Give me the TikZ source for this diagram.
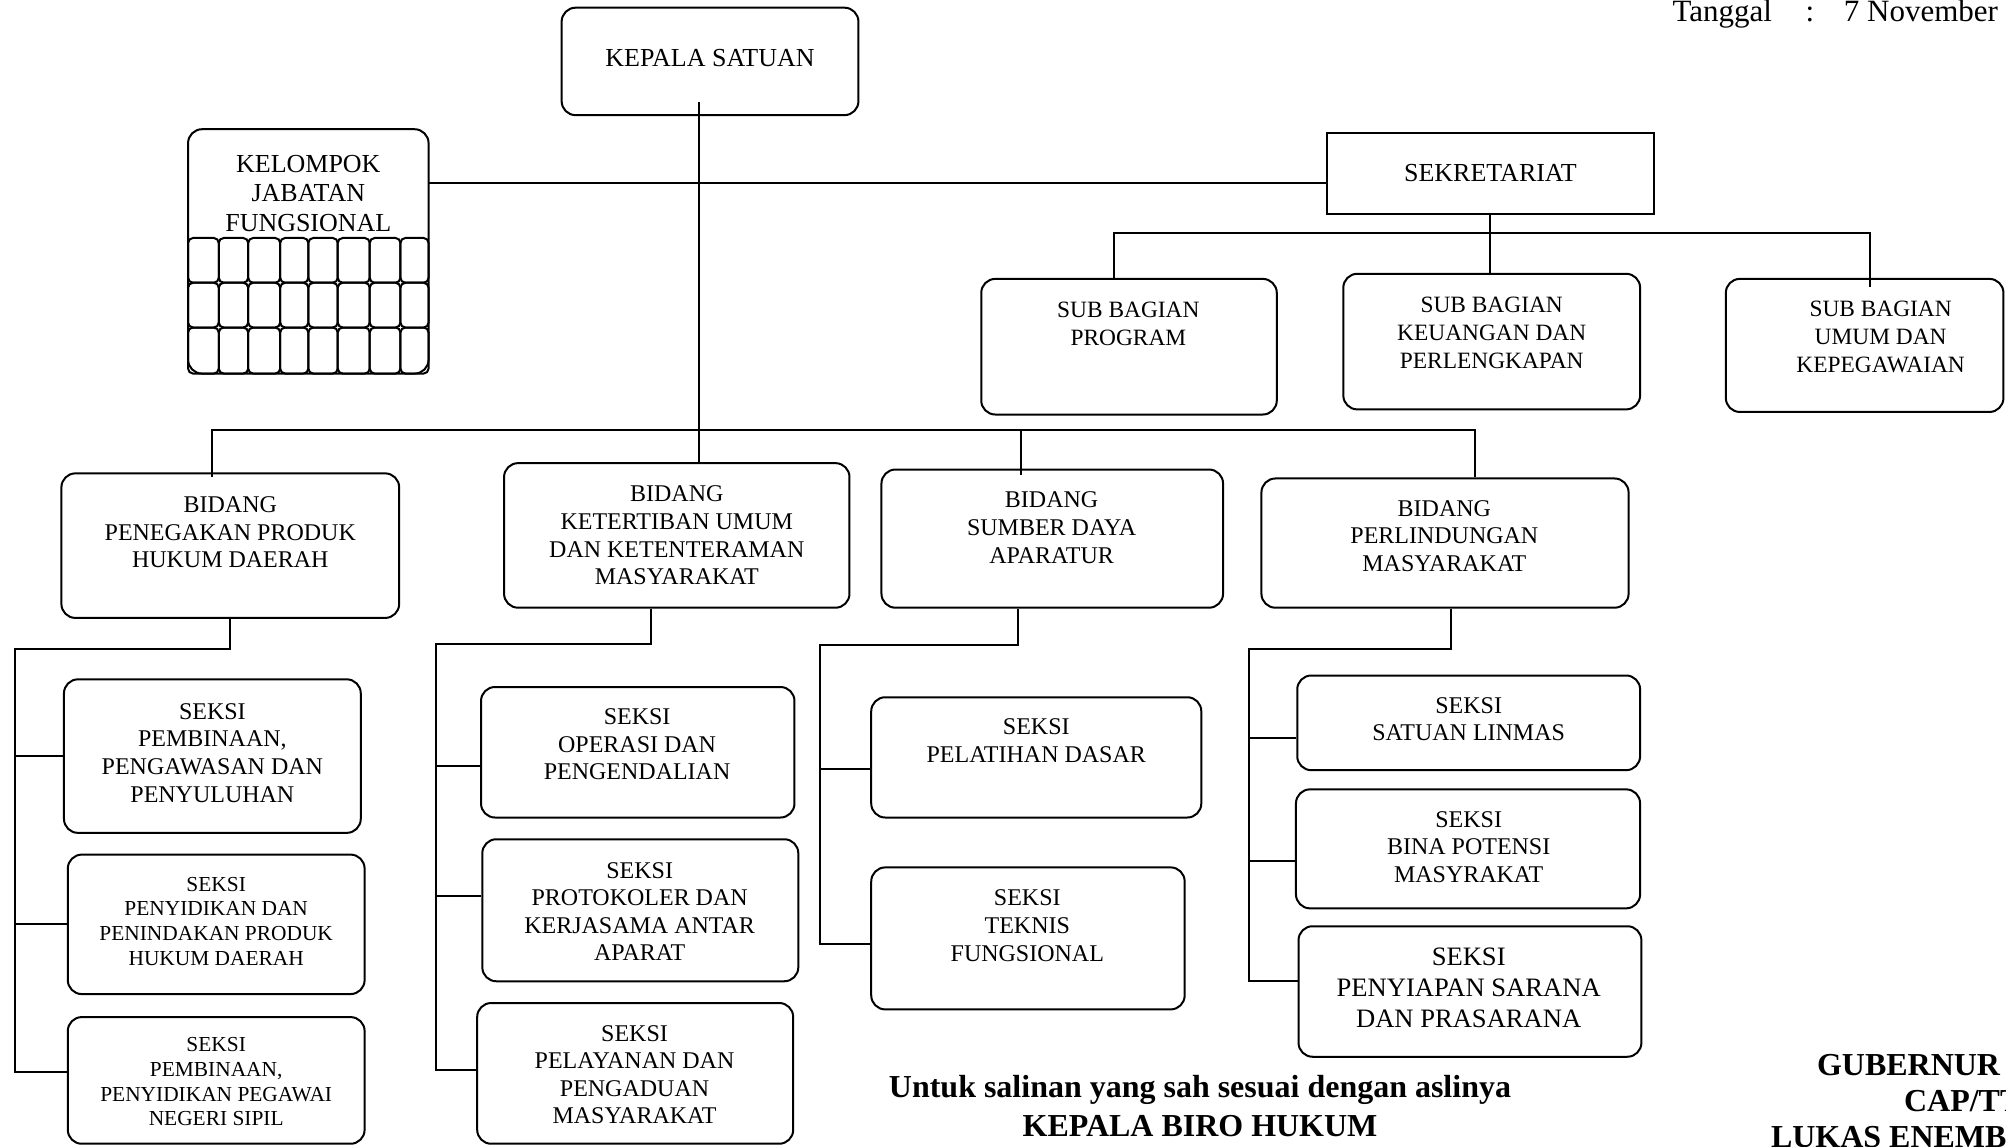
\documentclass[tikz,border=0pt]{standalone}
\usepackage{fontspec}
\setmainfont{Liberation Serif}
\usetikzlibrary{fit,calc}
\begin{document}
\begin{tikzpicture}[x=0.64pt,y=-0.64pt,
  rbox/.style={draw,line width=1pt,rounded corners=7pt,inner sep=0pt},
  sbox/.style={draw,line width=1pt,inner sep=0pt},
  cell/.style={draw,line width=1pt,rounded corners=2.5pt},
  lbl/.style={align=center,inner sep=0pt},
  ln/.style={line width=1pt},
  fA/.style={font=\fontsize{13}{14.7}\selectfont},
  fB/.style={font=\fontsize{11.7}{14}\selectfont},
  fC/.style={font=\fontsize{12}{13.8}\selectfont},
  fD/.style={font=\fontsize{10.7}{12.35}\selectfont},
  fE/.style={font=\fontsize{13.3}{15.4}\selectfont},
  fT/.style={font=\fontsize{15.5}{18}\selectfont},
  fBold/.style={font=\fontsize{16}{18}\selectfont\bfseries}]
\useasboundingbox (0,0) rectangle (1568,896);

% header
\node[fT,anchor=base west,inner sep=0pt] (tg) at (1307,17) {Tanggal};
\node[fT,anchor=base west,inner sep=0pt] (tgc) at (1411,17) {:};
\node[fT,anchor=base west,inner sep=0pt] (tgd) at (1441,17) {7 November};

% top
\node[rbox,fit={(439,6) (671,90)}] (kepala) {};
\node[lbl,fA] (kepala-t) at (555,45) {KEPALA SATUAN};

\node[rbox,fit={(147,101) (335,292)}] (kjf) {};
\node[lbl,fA] (kjf-t) at (241,151) {KELOMPOK\\JABATAN\\FUNGSIONAL};
\foreach \r/\s in {186/221,221/256,256/292}{
  \foreach \a/\b in {147/171,171/194,194/219,219/241,241/264,264/289,289/313,313/335}{
    \draw[cell] (\a,\r) rectangle (\b,\s);
  }
}

\node[sbox,fit={(1037,104) (1293,167)}] (sek) {};
\node[lbl,fA] (sek-t) at (1165,135) {SEKRETARIAT};

\node[rbox,fit={(767,218) (998,324)}] (prog) {};
\node[lbl,fB] (prog-t) at (882,253) {SUB BAGIAN\\PROGRAM};
\node[rbox,fit={(1050,214) (1282,320)}] (keu) {};
\node[lbl,fB] (keu-t) at (1166,260) {SUB BAGIAN\\KEUANGAN DAN\\PERLENGKAPAN};
\node[rbox,fit={(1349,218) (1566,322)}] (umum) {};
\node[lbl,fB] (umum-t) at (1470,263) {SUB BAGIAN\\UMUM DAN\\KEPEGAWAIAN};

% bidang
\node[rbox,fit={(48,370) (312,483)}] (bid1) {};
\node[lbl,fC] (bid1-t) at (180,416) {BIDANG\\PENEGAKAN PRODUK\\HUKUM DAERAH};
\node[rbox,fit={(394,362) (664,475)}] (bid2) {};
\node[lbl,fC] (bid2-t) at (529,418.5) {BIDANG\\KETERTIBAN UMUM\\DAN KETENTERAMAN\\MASYARAKAT};
\node[rbox,fit={(689,367) (956,475)}] (bid3) {};
\node[lbl,fC] (bid3-t) at (822,412.5) {BIDANG\\SUMBER DAYA\\APARATUR};
\node[rbox,fit={(986,374) (1273,475)}] (bid4) {};
\node[lbl,fC] (bid4-t) at (1129,419) {BIDANG\\PERLINDUNGAN\\MASYARAKAT};

% seksi col 1
\node[rbox,fit={(50,531) (282,651)}] (s11) {};
\node[lbl,fC] (s11-t) at (166,588.5) {SEKSI\\PEMBINAAN,\\PENGAWASAN DAN\\PENYULUHAN};
\node[rbox,fit={(53,668) (285,777)}] (s12) {};
\node[lbl,fD] (s12-t) at (169,720) {SEKSI\\PENYIDIKAN DAN\\PENINDAKAN PRODUK\\HUKUM DAERAH};
\node[rbox,fit={(53,795) (285,894)}] (s13) {};
\node[lbl,fD] (s13-t) at (169,845.5) {SEKSI\\PEMBINAAN,\\PENYIDIKAN PEGAWAI\\NEGERI SIPIL};

% seksi col 2
\node[rbox,fit={(376,537) (621,639)}] (s21) {};
\node[lbl,fC] (s21-t) at (498,582) {SEKSI\\OPERASI DAN\\PENGENDALIAN};
\node[rbox,fit={(377,656) (624,767)}] (s22) {};
\node[lbl,fC] (s22-t) at (500,712.5) {SEKSI\\PROTOKOLER DAN\\KERJASAMA ANTAR\\APARAT};
\node[rbox,fit={(373,784) (620,894)}] (s23) {};
\node[lbl,fC] (s23-t) at (496,840) {SEKSI\\PELAYANAN DAN\\PENGADUAN\\MASYARAKAT};

% seksi col 3
\node[rbox,fit={(681,545) (939,639)}] (s31) {};
\node[lbl,fC] (s31-t) at (810,579) {SEKSI\\PELATIHAN DASAR};
\node[rbox,fit={(681,678) (926,789)}] (s32) {};
\node[lbl,fC] (s32-t) at (803,723.5) {SEKSI\\TEKNIS\\FUNGSIONAL};

% seksi col 4
\node[rbox,fit={(1014,528) (1282,602)}] (s41) {};
\node[lbl,fC] (s41-t) at (1148,562) {SEKSI\\SATUAN LINMAS};
\node[rbox,fit={(1013,617) (1282,710)}] (s42) {};
\node[lbl,fC] (s42-t) at (1148,662) {SEKSI\\BINA POTENSI\\MASYRAKAT};
\node[rbox,fit={(1015,724) (1283,826)}] (s43) {};
\node[lbl,fE] (s43-t) at (1148,772) {SEKSI\\PENYIAPAN SARANA\\DAN PRASARANA};

% bottom texts
\node[fBold,lbl] (sal1) at (938,852) {Untuk salinan yang sah sesuai dengan aslinya};
\node[fBold,lbl] (sal2) at (938,880) {KEPALA BIRO HUKUM};
\node[fBold,anchor=base west,inner sep=0pt] (gub1) at (1420,841) {GUBERNUR};
\node[fBold,anchor=base west,inner sep=0pt] (gub2) at (1488,869) {CAP/TT};
\node[fBold,anchor=base west,inner sep=0pt] (gub3) at (1384,897) {LUKAS ENEMB};

% connectors
\coordinate (k0) at (546,80);
\draw[ln] (k0) -- (k0 |- bid2.north);
\coordinate (ks) at (335,143);
\draw[ln] (ks) -- (ks -| sek.west);
\draw[ln] (sek.south) -- (sek.south |- keu.north);
\coordinate (sb1) at (871,182);
\coordinate (sb2) at (1462,182);
\draw[ln] (sb1 |- prog.north) -- (sb1) -- (sb2) -- ($(sb2 |- umum.north)+(0,7)$);
\coordinate (mb1) at (166,336);
\coordinate (mb2) at (1153,336);
\coordinate (mb3) at (798,336);
\draw[ln] ($(mb1 |- bid1.north)+(0,4)$) -- (mb1) -- (mb2) -- (mb2 |- bid4.north);
\draw[ln] (mb3) -- ($(mb3 |- bid3.north)+(0,5)$);

% column 1
\coordinate (c1) at (12,507);
\draw[ln] (bid1.south) |- (c1) -- (12,838) -- (s13.west |- 12,838);
\draw[ln] (12,591) -- (s11.west |- 12,591);
\draw[ln] (12,722) -- (s12.west |- 12,722);
% column 2
\coordinate (c2) at (341,503);
\draw[ln] (bid2.south -| 509,0) |- (c2) -- (341,836) -- (s23.west |- 341,836);
\draw[ln] (341,599) -- (s21.west |- 341,599);
\draw[ln] (341,700) -- (s22.west |- 341,700);
% column 3
\coordinate (c3) at (641,504);
\draw[ln] (bid3.south -| 796,0) |- (c3) -- (641,738) -- (s32.west |- 641,738);
\draw[ln] (641,601) -- (s31.west |- 641,601);
% column 4
\coordinate (c4) at (976,507);
\draw[ln] (bid4.south -| 1134,0) |- (c4) -- (976,767) -- (s43.west |- 976,767);
\draw[ln] (976,577) -- (s41.west |- 976,577);
\draw[ln] (976,673) -- (s42.west |- 976,673);
\end{tikzpicture}
\end{document}
